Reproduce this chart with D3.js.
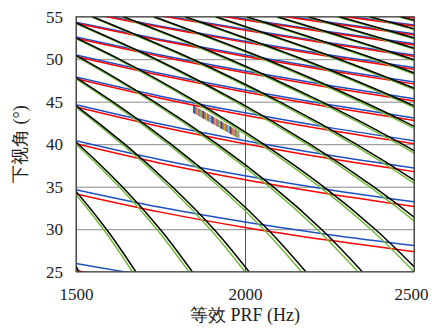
<!DOCTYPE html>
<html>
<head>
<meta charset="utf-8">
<script src="https://cdn.jsdelivr.net/npm/d3@7"></script>
<style>
  body { margin: 0; background: #fff; }
  .lbl { font-family: "Liberation Serif", "Times New Roman", "DejaVu Serif", serif; }
</style>
</head>
<body>
<svg id="chart" width="432" height="329"></svg>
<script>
// look angles (deg) at which the eclipse edges were read
const eclipseAngles = [25, 30, 35, 40, 45, 50, 55];

// eclipse edges, PRF (Hz) at each angle above, one row per pulse order 9..27
const eclipseUpper = [
    [1509, 1431, 1339, 1233, 1113, 977, 820],
    [1677, 1590, 1488, 1370, 1237, 1085, 911],
    [1844, 1749, 1637, 1507, 1360, 1194, 1002],
    [2012, 1908, 1785, 1644, 1484, 1303, 1094],
    [2180, 2067, 1934, 1781, 1608, 1411, 1185],
    [2347, 2226, 2083, 1918, 1731, 1520, 1276],
    [2515, 2385, 2232, 2055, 1855, 1628, 1367],
    [2683, 2544, 2380, 2192, 1979, 1737, 1458],
    [2850, 2703, 2529, 2329, 2102, 1845, 1549],
    [3018, 2862, 2678, 2466, 2226, 1954, 1640],
    [3186, 3021, 2827, 2603, 2350, 2062, 1731],
    [3353, 3180, 2975, 2740, 2473, 2171, 1823],
    [3521, 3339, 3124, 2877, 2597, 2279, 1914],
    [3689, 3498, 3273, 3014, 2721, 2388, 2005],
    [3856, 3657, 3422, 3151, 2844, 2496, 2096],
    [4024, 3816, 3571, 3288, 2968, 2605, 2187],
    [4192, 3975, 3719, 3425, 3092, 2714, 2278],
    [4360, 4134, 3868, 3562, 3215, 2822, 2369],
    [4527, 4293, 4017, 3699, 3339, 2931, 2460]
];
const eclipseLower = [
    [1500, 1423, 1332, 1227, 1108, 973, 818],
    [1667, 1581, 1480, 1364, 1231, 1081, 908],
    [1834, 1739, 1628, 1500, 1354, 1189, 999],
    [2000, 1897, 1776, 1636, 1478, 1298, 1090],
    [2167, 2055, 1924, 1773, 1601, 1406, 1181],
    [2334, 2213, 2072, 1909, 1724, 1514, 1272],
    [2500, 2372, 2220, 2045, 1847, 1622, 1363],
    [2667, 2530, 2368, 2182, 1970, 1730, 1453],
    [2834, 2688, 2516, 2318, 2093, 1838, 1544],
    [3000, 2846, 2664, 2454, 2216, 1946, 1635],
    [3167, 3004, 2812, 2591, 2339, 2054, 1726],
    [3334, 3162, 2960, 2727, 2463, 2163, 1817],
    [3500, 3320, 3108, 2864, 2586, 2271, 1908],
    [3667, 3478, 3256, 3000, 2709, 2379, 1998],
    [3834, 3636, 3404, 3136, 2832, 2487, 2089],
    [4000, 3794, 3552, 3273, 2955, 2595, 2180],
    [4167, 3953, 3700, 3409, 3078, 2703, 2271],
    [4334, 4111, 3848, 3545, 3201, 2811, 2362],
    [4501, 4269, 3996, 3682, 3324, 2919, 2453]
];

// nadir echo edges, look angle (deg) at each PRF, one row per order 1..14
const nadirPRF = [1500, 1750, 2000, 2250, 2500];
const nadirUpper = [
    [25.98, 24.30, 22.93, 21.80, 20.80],
    [34.65, 32.57, 30.84, 29.36, 28.08],
    [40.41, 38.18, 36.29, 34.65, 33.22],
    [44.64, 42.37, 40.41, 38.70, 37.20],
    [47.91, 45.65, 43.69, 41.95, 40.41],
    [50.50, 48.31, 46.37, 44.64, 43.09],
    [52.61, 50.50, 48.61, 46.90, 45.36],
    [54.35, 52.33, 50.50, 48.83, 47.31],
    [55.79, 53.88, 52.12, 50.50, 49.01],
    [57.00, 55.20, 53.52, 51.95, 50.50],
    [58.03, 56.34, 54.73, 53.23, 51.82],
    [58.89, 57.31, 55.79, 54.35, 52.99],
    [59.62, 58.16, 56.72, 55.34, 54.03],
    [60.24, 58.89, 57.54, 56.22, 54.96]
];
const nadirLower = [
    [25.15, 23.39, 21.94, 20.70, 19.65],
    [34.15, 32.01, 30.21, 28.69, 27.36],
    [40.06, 37.77, 35.83, 34.15, 32.68],
    [44.37, 42.06, 40.06, 38.31, 36.77],
    [47.70, 45.41, 43.40, 41.63, 40.06],
    [50.33, 48.11, 46.13, 44.37, 42.79],
    [52.47, 50.33, 48.41, 46.68, 45.10],
    [54.23, 52.19, 50.33, 48.64, 47.09],
    [55.70, 53.76, 51.98, 50.33, 48.82],
    [56.92, 55.10, 53.39, 51.81, 50.33],
    [57.96, 56.25, 54.62, 53.10, 51.67],
    [58.83, 57.24, 55.70, 54.23, 52.85],
    [59.56, 58.09, 56.64, 55.24, 53.91],
    [60.19, 58.83, 57.46, 56.13, 54.85]
];

// selected working region (corners)
const regionPRF = [1846, 1983, 1983, 1846];
const regionAngle = [44.6, 41.5, 40.6, 43.7];

const xTicks = [1500, 2000, 2500];
const yTicks = [25, 30, 35, 40, 45, 50, 55];

const margin = { top: 16.7, left: 76, right: 18, bottom: 57.3 };
const totalWidth = 432;
const totalHeight = 329;
const chartWidth = totalWidth - margin.left - margin.right;
const chartHeight = totalHeight - margin.top - margin.bottom;

const stripeColors = ['#0072BD', '#D95319', '#EDB120', '#7E2F8E', '#77AC30', '#4DBEEE', '#A2142F'];

const x = d3.scaleLinear().domain([1500, 2500]).range([0, chartWidth]);
const y = d3.scaleLinear().domain([25, 55]).range([chartHeight, 0]);

const svg = d3.select('#chart');
const defs = svg.append('defs');

defs.append('clipPath').attr('id', 'clip')
    .append('rect')
    .attr('width', chartWidth)
    .attr('height', chartHeight);

const stripeW = 1.3;
const pattern = defs.append('pattern')
    .attr('id', 'stripes')
    .attr('patternUnits', 'userSpaceOnUse')
    .attr('width', stripeW * stripeColors.length)
    .attr('height', 10);
stripeColors.forEach((c, i) => {
    pattern.append('rect')
        .attr('x', i * stripeW)
        .attr('width', stripeW)
        .attr('height', 10)
        .attr('fill', c);
});

const gChart = svg.append('g')
    .attr('transform', 'translate(' + margin.left + ',' + margin.top + ')');

// grid
gChart.append('g')
    .call(d3.axisLeft(y).tickValues(yTicks).tickSize(-chartWidth).tickFormat(''))
    .call(g => g.select('.domain').remove())
    .selectAll('line').attr('stroke', '#8a8a8a').attr('stroke-width', 1);
gChart.append('g')
    .attr('transform', 'translate(0,' + chartHeight + ')')
    .call(d3.axisBottom(x).tickValues(xTicks).tickSize(-chartHeight).tickFormat(''))
    .call(g => g.select('.domain').remove())
    .selectAll('line').attr('stroke', '#555').attr('stroke-width', 1);

const gLines = gChart.append('g').attr('clip-path', 'url(#clip)');

const nadirLine = d3.line()
    .x((d, i) => x(nadirPRF[i]))
    .y(d => y(d))
    .curve(d3.curveMonotoneX);

const eclipseLine = d3.line()
    .x(d => x(d))
    .y((d, i) => y(eclipseAngles[i]))
    .curve(d3.curveMonotoneY);

gLines.selectAll('.nadir_up')
    .data(nadirUpper)
    .enter().append('path')
    .attr('class', 'nadir_up')
    .attr('d', nadirLine)
    .attr('fill', 'none')
    .attr('stroke', '#1f4fc4')
    .attr('stroke-width', 1.5);

gLines.selectAll('.nadir_low')
    .data(nadirLower)
    .enter().append('path')
    .attr('class', 'nadir_low')
    .attr('d', nadirLine)
    .attr('fill', 'none')
    .attr('stroke', '#ff0000')
    .attr('stroke-width', 1.5);

gLines.selectAll('.eclipse_low')
    .data(eclipseLower)
    .enter().append('path')
    .attr('class', 'eclipse_low')
    .attr('d', eclipseLine)
    .attr('fill', 'none')
    .attr('stroke', '#72bb3a')
    .attr('stroke-width', 1.5);

gLines.selectAll('.eclipse_up')
    .data(eclipseUpper)
    .enter().append('path')
    .attr('class', 'eclipse_up')
    .attr('d', eclipseLine)
    .attr('fill', 'none')
    .attr('stroke', '#000')
    .attr('stroke-width', 1.5);

gLines.append('path')
    .datum(regionPRF.map((p, i) => [p, regionAngle[i]]))
    .attr('d', d3.line().x(d => x(d[0])).y(d => y(d[1])).curve(d3.curveLinearClosed))
    .attr('fill', 'url(#stripes)')
    .attr('stroke', 'none');

// frame
gChart.append('rect')
    .attr('width', chartWidth)
    .attr('height', chartHeight)
    .attr('fill', 'none')
    .attr('stroke', '#404040')
    .attr('stroke-width', 1);

// tick labels
const xAxis = gChart.append('g')
    .attr('transform', 'translate(0,' + chartHeight + ')')
    .call(d3.axisBottom(x).tickValues(xTicks).tickSize(0).tickPadding(16.7).tickFormat(d3.format('d')));
xAxis.select('.domain').remove();
xAxis.attr('font-family', null).attr('font-size', null);
xAxis.selectAll('text')
    .attr('class', 'lbl')
    .attr('font-size', 17)
    .attr('fill', '#222')
    .attr('dx', d => d === 2500 ? -3 : 0);

const yAxis = gChart.append('g')
    .call(d3.axisLeft(y).tickValues(yTicks).tickSize(0).tickPadding(13));
yAxis.select('.domain').remove();
yAxis.attr('font-family', null).attr('font-size', null);
yAxis.selectAll('text')
    .attr('class', 'lbl')
    .attr('font-size', 17)
    .attr('fill', '#222');

// axis titles
svg.append('text')
    .attr('class', 'lbl')
    .attr('x', margin.left + chartWidth / 2)
    .attr('y', 321)
    .attr('text-anchor', 'middle')
    .attr('font-size', 18)
    .attr('fill', '#222')
    .text('等效 PRF (Hz)');

svg.append('text')
    .attr('class', 'lbl')
    .attr('transform', 'translate(26,' + (margin.top + chartHeight / 2) + ') rotate(-90)')
    .attr('text-anchor', 'middle')
    .attr('font-size', 18)
    .attr('fill', '#222')
    .text('下视角 (°)');
</script>
</body>
</html>
